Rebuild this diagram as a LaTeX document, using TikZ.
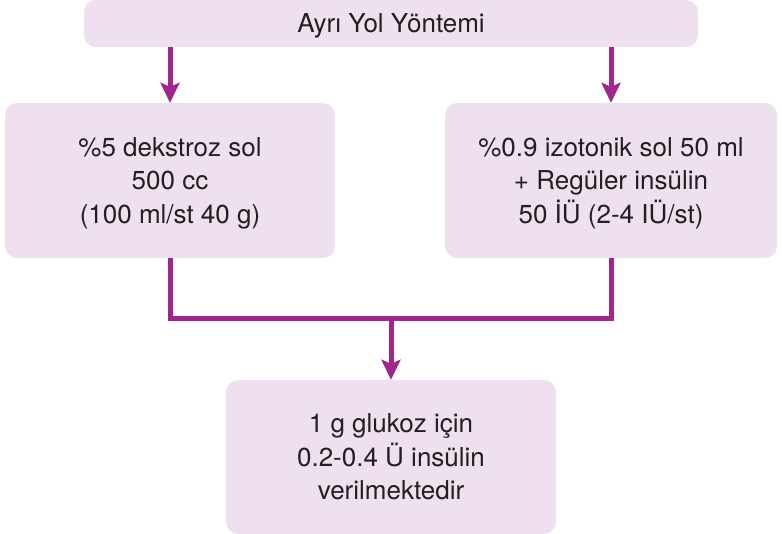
\documentclass[tikz,border=0pt]{standalone}
\usepackage{fontspec}
\setmainfont{TeX Gyre Heros}
\usepackage{tikz}
\usetikzlibrary{arrows.meta,positioning}
\definecolor{aypurple}{RGB}{160,38,142}
\definecolor{aylight}{RGB}{238,224,238}
\definecolor{aytext}{RGB}{35,31,32}
\tikzset{
  aybox/.style={fill=aylight, rounded corners=12pt, align=center, text=aytext, inner sep=0pt,
    text depth=0pt, font=\fontsize{26}{33.5}\selectfont},
  aybig/.style={aybox, minimum width=330pt, minimum height=155pt},
  ayline/.style={line width=5pt, draw=aypurple},
  ayarr/.style={-{Stealth[length=20pt, width=19pt, inset=4pt]}, line width=5pt, draw=aypurple}
}
\begin{document}
\begin{tikzpicture}[x=1pt, y=-1pt]
  \useasboundingbox (0,0) rectangle (782,534);
  \node[aybox, text height=18.5pt, minimum width=614pt, minimum height=47pt] (top) at (391,23.5) {Ayrı Yol Yöntemi};
  \node[aybig] (dext) at (170,180.5) {\%5 dekstroz sol\\500 cc\\(100 ml/st 40 g)};
  \node[aybig, minimum width=332pt] (ins) at (611,180.5) {\%0.9 izotonik sol 50 ml\\+ Regüler insülin\\50 İÜ (2-4 IÜ/st)};
  \node[aybig, minimum height=154pt] (res) at (391,457) {1 g glukoz için\\0.2-0.4 Ü insülin\\verilmektedir};
  \coordinate (join) at (391,319);
  \draw[ayarr] (top.south -| dext) -- (dext.north);
  \draw[ayarr] (top.south -| ins) -- (ins.north);
  \draw[ayline] (dext.south) |- (join) -| (ins.south);
  \draw[ayarr] (join) -- (res.north);
\end{tikzpicture}
\end{document}
